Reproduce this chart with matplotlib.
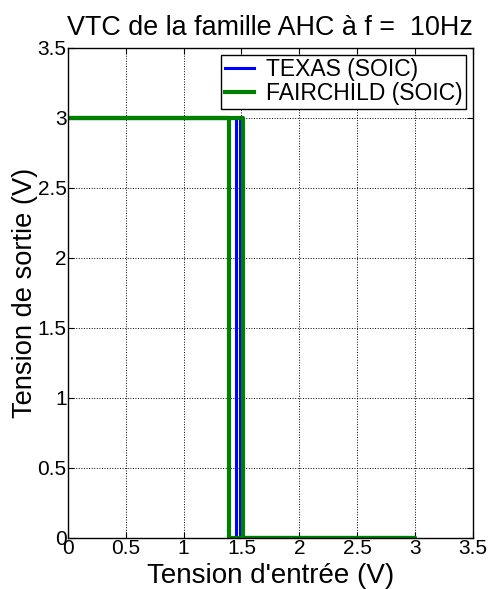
import numpy as np
import matplotlib.pyplot as plt

plt.rcParams['font.family'] = ['Liberation Sans', 'DejaVu Sans']

# hysteresis VTC: rising input then falling input
texas_vin = [0, 1.49, 1.49, 3.0, 3.0, 1.45, 1.45, 0]
texas_vout = [3.0, 3.0, 0.0, 0.0, 0.0, 0.0, 3.0, 3.0]
fair_vin = [0, 1.51, 1.51, 3.0, 3.0, 1.39, 1.39, 0]
fair_vout = [3.0, 3.0, 0.0, 0.0, 0.0, 0.0, 3.0, 3.0]

ticks = [0, 0.5, 1, 1.5, 2, 2.5, 3, 3.5]
tick_labels = ['0', '0.5', '1', '1.5', '2', '2.5', '3', '3.5']

fig = plt.figure(figsize=(4.93, 5.89), dpi=100)
ax = fig.add_axes([0.138, 0.0866, 0.821, 0.832])

ax.plot(texas_vin, texas_vout, color='#0000ff', lw=2.2, label='TEXAS (SOIC)')
ax.plot(fair_vin, fair_vout, color='#008000', lw=3.0, label='FAIRCHILD (SOIC)')

ax.set_xlim(0, 3.5)
ax.set_ylim(0, 3.5)
ax.set_xticks(ticks)
ax.set_xticklabels(tick_labels)
ax.set_yticks(ticks)
ax.set_yticklabels(tick_labels)
ax.tick_params(direction='in', top=True, right=True, labelsize=15, length=4, pad=1)
ax.grid(True, color='black', linestyle=':', linewidth=0.7)
for s in ax.spines.values():
    s.set_linewidth(1.0)

ax.set_title('VTC de la famille AHC à f =  10Hz', fontsize=19.4, pad=9, x=0.5)
ax.set_xlabel("Tension d'entrée (V)", fontsize=20, labelpad=3)
ax.set_ylabel('Tension de sortie (V)', fontsize=19.6, labelpad=0)

leg = ax.legend(loc='upper right', fontsize=16.5, fancybox=False, framealpha=1,
                edgecolor='black', borderaxespad=0.3, handlelength=1.3,
                borderpad=0.15, labelspacing=0.05, handletextpad=0.5)
leg.get_frame().set_linewidth(1.0)

fig.savefig('out.png', dpi=100)
